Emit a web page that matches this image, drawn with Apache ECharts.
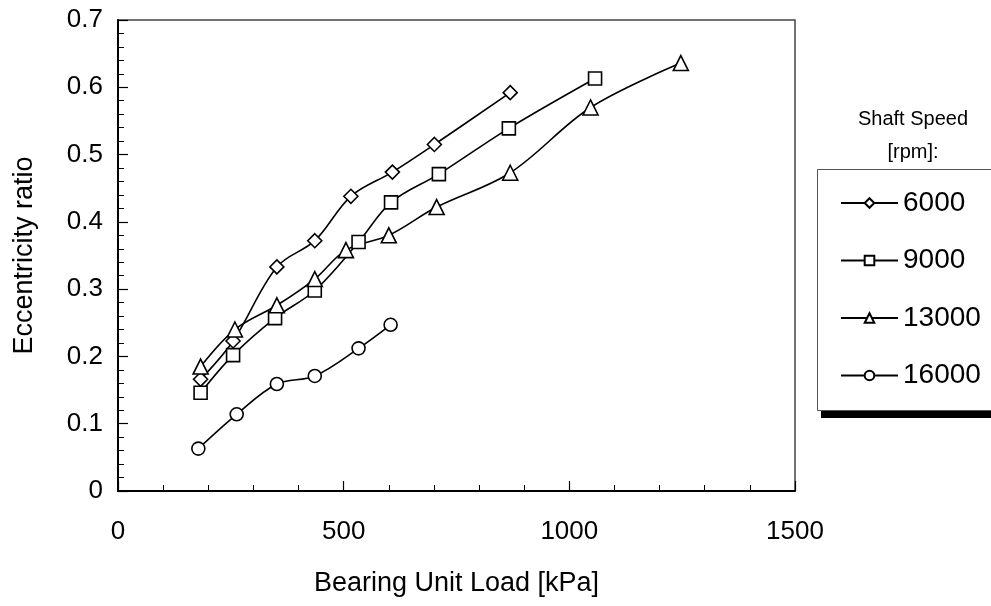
<!DOCTYPE html>
<html>
<head>
<meta charset="utf-8">
<script src="https://cdn.jsdelivr.net/npm/echarts@6/dist/echarts.min.js"></script>
<style>html,body{margin:0;padding:0;background:#fff;}#c{width:991px;height:606px;}</style>
</head>
<body>
<div id="c"></div>
<script>
// ---- data ----
const seriesNames = ['6000', '9000', '13000', '16000'];
const load6000  = [183, 255, 352, 436, 516, 608, 701, 869];
const ecc6000   = [0.166, 0.223, 0.333, 0.372, 0.438, 0.474, 0.515, 0.592];
const load9000  = [183, 255, 348, 436, 533, 605, 711, 866, 1057];
const ecc9000   = [0.146, 0.202, 0.257, 0.298, 0.370, 0.429, 0.471, 0.539, 0.613];
const load13000 = [183, 259, 352, 436, 505, 600, 706, 869, 1047, 1247];
const ecc13000  = [0.185, 0.240, 0.276, 0.315, 0.358, 0.380, 0.422, 0.473, 0.570, 0.636];
const load16000 = [178, 263, 352, 436, 533, 604];
const ecc16000  = [0.063, 0.114, 0.159, 0.171, 0.212, 0.247];
const xTicks = [0, 500, 1000, 1500];
const yTicks = [0, 0.1, 0.2, 0.3, 0.4, 0.5, 0.6, 0.7];
const symbols = ['diamond', 'rect', 'triangle', 'circle'];
const symbolSizes = [14, 13, 15, 13];

const xs = [load6000, load9000, load13000, load16000];
const ys = [ecc6000, ecc9000, ecc13000, ecc16000];
const FONT = '"Liberation Sans", Arial, sans-serif';

const chart = echarts.init(document.getElementById('c'), null, {renderer: 'canvas'});
const series = seriesNames.map((name, i) => ({
  name: name,
  type: 'line',
  smooth: 0.35,
  data: xs[i].map((x, j) => [x, ys[i][j]]),
  symbol: symbols[i],
  symbolSize: symbolSizes[i],
  lineStyle: {color: '#000', width: 1.6},
  itemStyle: {color: '#fff', borderColor: '#000', borderWidth: 1.6},
  emphasis: {disabled: true},
  animation: false
}));

chart.setOption({
  animation: false,
  backgroundColor: '#fff',
  textStyle: {fontFamily: FONT},
  grid: {left: 118, right: 196, top: 20, bottom: 115, show: true, borderColor: '#444', borderWidth: 1.5, backgroundColor: 'transparent'},
  graphic: [
    {type: 'rect', z: 1, shape: {x: 821, y: 411, width: 180, height: 7}, style: {fill: '#000'}},
    {type: 'rect', z: 2, shape: {x: 817.5, y: 169.5, width: 200, height: 241}, style: {fill: '#fff', stroke: '#555', lineWidth: 1}}
  ],
  title: {
    text: 'Shaft Speed\n[rpm]:',
    left: 908, top: 98, textAlign: 'center',
    textStyle: {fontFamily: FONT, fontSize: 20, fontWeight: 'normal', color: '#000', lineHeight: 33}
  },
  legend: {
    orient: 'vertical',
    left: 817, top: 169,
    data: seriesNames,
    itemWidth: 57, itemHeight: 12, itemGap: 27.5,
    padding: [19, 10, 20, 23],
    z: 10,
    textStyle: {fontFamily: FONT, fontSize: 28, color: '#000', lineHeight: 30},
    selectedMode: false
  },
  xAxis: {
    type: 'value', min: xTicks[0], max: xTicks[xTicks.length - 1], interval: xTicks[1] - xTicks[0],
    name: 'Bearing Unit Load [kPa]', nameLocation: 'middle', nameGap: 79,
    nameTextStyle: {fontFamily: FONT, fontSize: 27, color: '#000'},
    axisLine: {show: true, lineStyle: {color: '#000', width: 2}},
    axisTick: {show: true, inside: true, length: 10, lineStyle: {color: '#000', width: 1.2}},
    minorTick: {show: true, splitNumber: 5, length: 6, lineStyle: {color: '#000', width: 1}},
    splitLine: {show: false},
    axisLabel: {fontFamily: FONT, fontSize: 26, color: '#000', margin: 28, formatter: v => String(v)}
  },
  yAxis: {
    type: 'value', min: yTicks[0], max: yTicks[yTicks.length - 1], interval: 0.1,
    name: 'Eccentricity ratio', nameLocation: 'middle', nameGap: 80,
    nameTextStyle: {fontFamily: FONT, fontSize: 27, color: '#000'},
    axisLine: {show: true, lineStyle: {color: '#000', width: 2}},
    axisTick: {show: true, inside: true, length: 10, lineStyle: {color: '#000', width: 1.2}},
    minorTick: {show: true, splitNumber: 5, length: 6, lineStyle: {color: '#000', width: 1}},
    splitLine: {show: false},
    axisLabel: {fontFamily: FONT, fontSize: 26, color: '#000', margin: 15,
      formatter: v => (Math.round(v * 10) / 10).toString()}
  },
  series: series
});
</script>
</body>
</html>
